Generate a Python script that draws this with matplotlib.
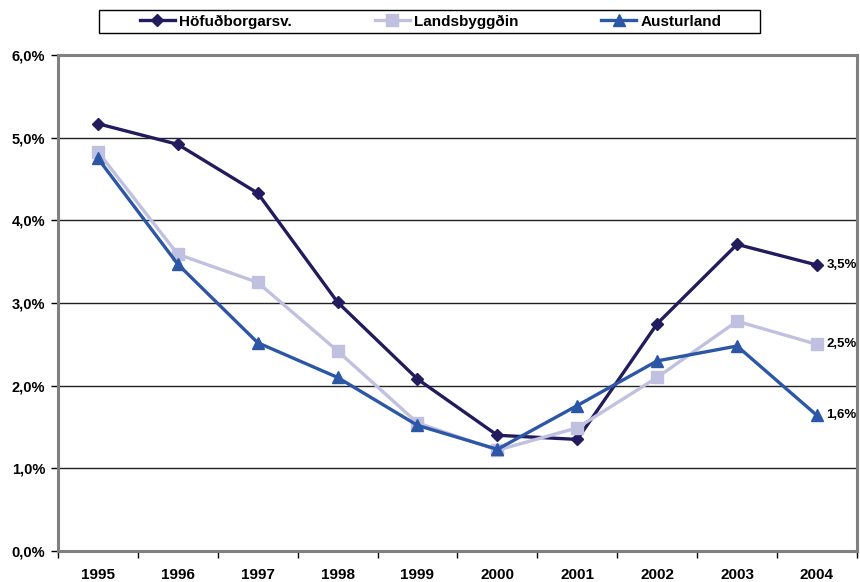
import matplotlib.pyplot as plt
from matplotlib.patches import Rectangle
import numpy as np

plt.rcParams['font.family'] = ['Liberation Sans', 'DejaVu Sans']
plt.rcParams['font.weight'] = 'bold'

years = ['1995', '1996', '1997', '1998', '1999', '2000', '2001', '2002', '2003', '2004']
hofudborg = [5.17, 4.92, 4.33, 3.01, 2.08, 1.40, 1.35, 2.75, 3.71, 3.46]
landsbyggd = [4.83, 3.59, 3.25, 2.42, 1.55, 1.22, 1.49, 2.10, 2.78, 2.50]
austurland = [4.75, 3.47, 2.52, 2.10, 1.52, 1.23, 1.76, 2.30, 2.48, 1.64]
end_labels = ['3,5%', '2,5%', '1,6%']

fig = plt.figure(figsize=(8.6, 5.82), dpi=100)
ax = fig.add_axes([0.0674, 0.0533, 0.929, 0.852])

x = np.arange(len(years))
series = [
    ('Höfuðborgarsv.', hofudborg, '#221C5E', 'D', 6.5),
    ('Landsbyggðin', landsbyggd, '#C0C0E0', 's', 8.5),
    ('Austurland', austurland, '#2C57A6', '^', 8.5),
]
for (name, vals, col, mk, ms), lab in zip(series, end_labels):
    ax.plot(x, vals, color=col, lw=2.4, marker=mk, markersize=ms,
            markerfacecolor=col, markeredgecolor=col, label=name, zorder=3)
    ax.text(x[-1] + 0.12, vals[-1], lab, fontsize=9.5, fontweight='bold',
            va='center', ha='left')

ax.set_xlim(-0.5, len(years) - 0.5)
ax.set_ylim(0, 6)
ax.set_yticks(np.arange(0, 7, 1))
ax.set_yticklabels([f'{v:.1f}%'.replace('.', ',') for v in range(7)])
ax.set_xticks(x)
ax.set_xticklabels(years)
ax.set_xticks(np.arange(-0.5, len(years), 1), minor=True)
ax.tick_params(axis='x', which='major', length=0, pad=12, labelsize=11)
ax.tick_params(axis='x', which='minor', length=5, width=1, color='black')
ax.tick_params(axis='y', length=5, width=1, color='black', labelsize=10.5, pad=4)

for v in range(1, 6):
    ax.axhline(v, color='#222222', lw=1, zorder=1)

for s in ax.spines.values():
    s.set_color('#808080')
    s.set_linewidth(2.2)

# legend box drawn separately, entries centred in it
fig.patches.append(Rectangle((99 / 860, 1 - 33 / 582), 661 / 860, 23 / 582,
                             transform=fig.transFigure, fill=False,
                             edgecolor='black', lw=1))
fig.legend(loc='center', bbox_to_anchor=(0.501, 1 - 21.5 / 582), ncol=3,
           frameon=False, fontsize=11, handlelength=2.3, handletextpad=0.3,
           columnspacing=5.4, borderpad=0, borderaxespad=0)

fig.savefig('out.png', dpi=100)
